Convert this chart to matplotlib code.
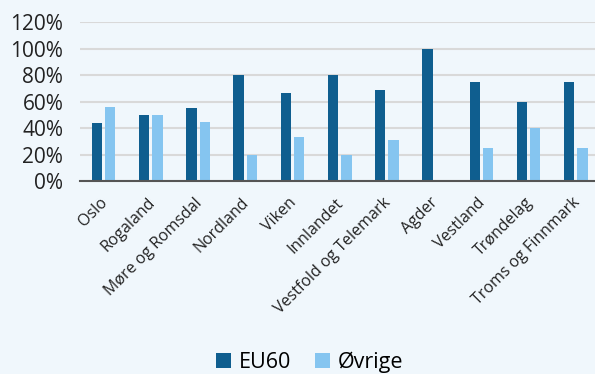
import numpy as np
import matplotlib.pyplot as plt
import matplotlib.transforms as mtransforms
from matplotlib.ticker import PercentFormatter

plt.rcParams['font.family'] = ['Open Sans', 'DejaVu Sans']

regions = ['Oslo', 'Rogaland', 'Møre og Romsdal', 'Nordland', 'Viken', 'Innlandet',
           'Vestfold og Telemark', 'Agder', 'Vestland', 'Trøndelag', 'Troms og Finnmark']
eu60 = [0.4375, 0.50, 0.556, 0.80, 0.667, 0.80, 0.692, 1.00, 0.75, 0.60, 0.75]
ovrige = [0.5625, 0.50, 0.444, 0.20, 0.333, 0.20, 0.308, 0.00, 0.25, 0.40, 0.25]

bg = '#f0f7fc'
dark = '#0f5e8f'
light = '#85c5f0'

fig = plt.figure(figsize=(5.95, 3.74), dpi=100, facecolor=bg)
ax = fig.add_axes([0.1345, 0.516, 0.873, 0.424], facecolor=bg)

x = np.arange(len(regions))
w = 0.218
ax.bar(x - 0.141, eu60, w, color=dark, label='EU60', zorder=3)
ax.bar(x + 0.141, ovrige, w, color=light, label='Øvrige', zorder=3)

ax.set_xlim(-0.5, len(regions) - 0.5)
ax.set_ylim(0, 1.2)
ax.set_yticks(np.arange(0, 1.21, 0.2))
ax.yaxis.set_major_formatter(PercentFormatter(1.0, decimals=0))
ax.grid(axis='y', color='#d9d9d9', linewidth=1.5, zorder=0)

for s in ['top', 'right', 'left']:
    ax.spines[s].set_visible(False)
ax.spines['bottom'].set_color('#555555')
ax.spines['bottom'].set_linewidth(1.5)
ax.spines['bottom'].set_zorder(4)

ax.set_xticks(x)
ax.set_xticklabels(regions, rotation=45, ha='right', rotation_mode='anchor',
                   fontsize=11.5, color='#222222')
ax.tick_params(axis='x', length=0, pad=10)
ax.tick_params(axis='y', length=0, labelsize=15, colors='#222222', pad=12)

# nudge the rotated region names a little to the left
shift = mtransforms.ScaledTranslation(-4 / 100, 0, fig.dpi_scale_trans)
for lbl in ax.get_xticklabels():
    lbl.set_transform(lbl.get_transform() + shift)

fig.legend(loc='lower center', bbox_to_anchor=(0.52, -0.05), ncol=2, frameon=False,
           fontsize=15.5, handlelength=0.7, handleheight=0.7, handletextpad=0.35,
           columnspacing=1.1)

fig.savefig('out.png', dpi=100, facecolor=bg)
